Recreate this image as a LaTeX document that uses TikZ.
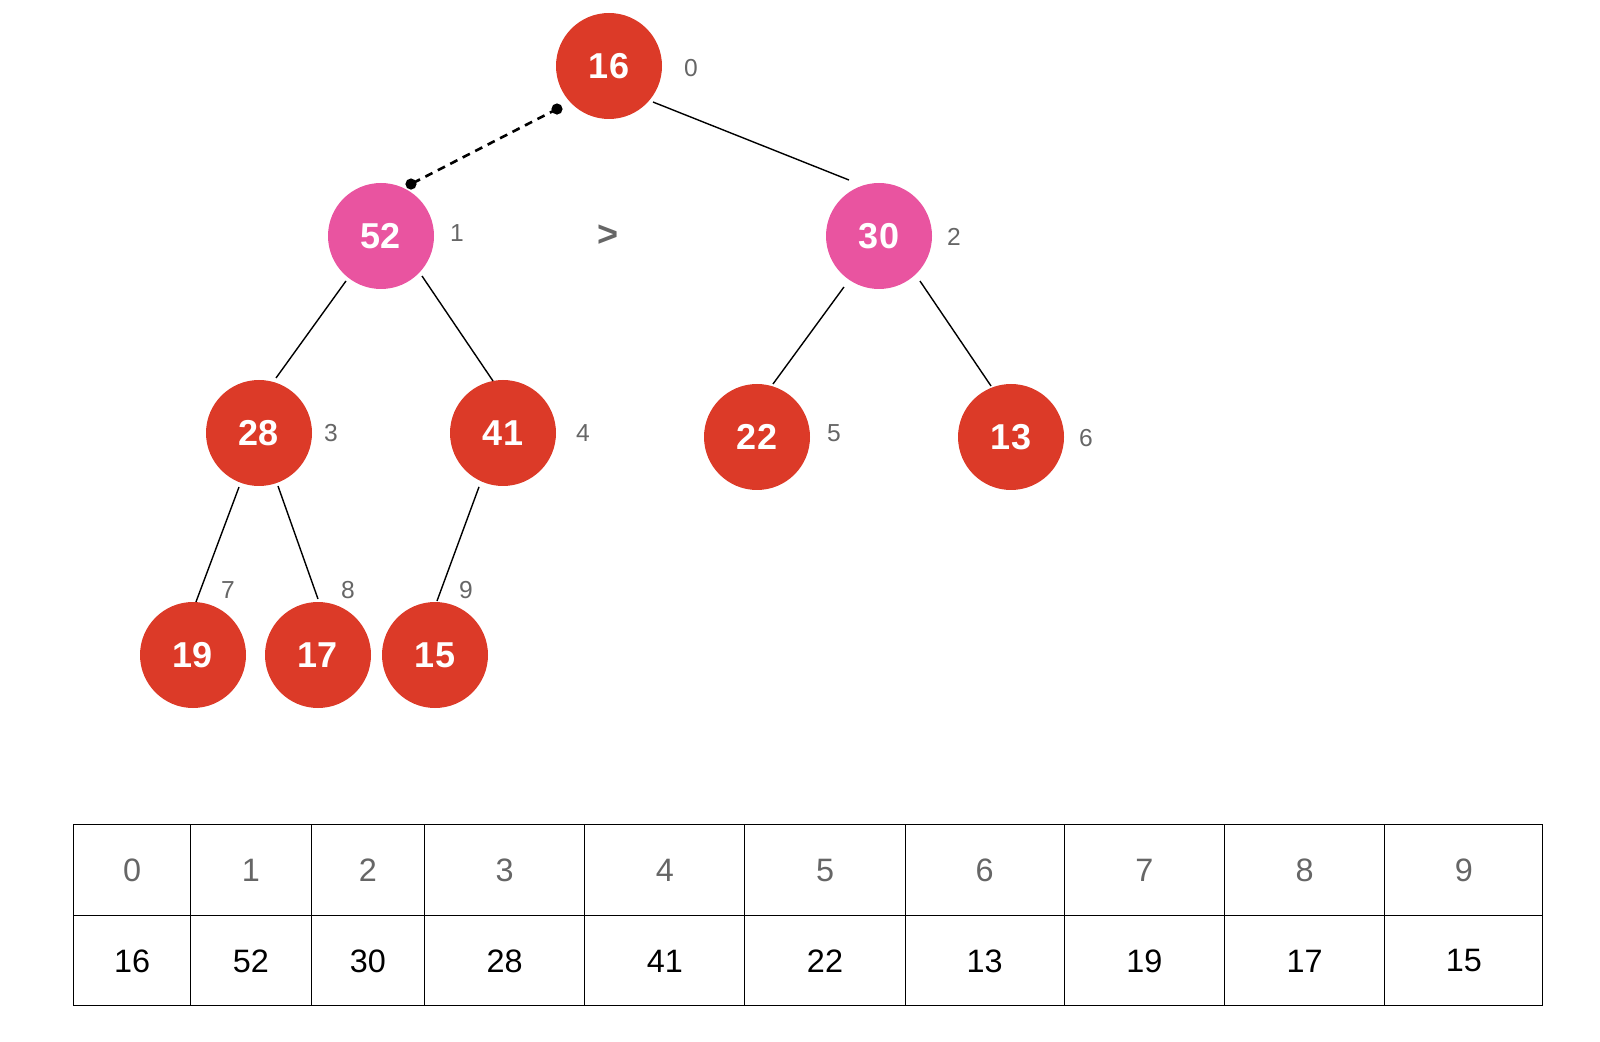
\documentclass[tikz,border=0pt]{standalone}
\usepackage{fontspec}
\setmainfont{Liberation Sans}
\definecolor{heapred}{RGB}{220,58,40}
\definecolor{heappink}{RGB}{233,84,160}
\definecolor{idxgray}{RGB}{102,102,102}
\begin{document}
\begin{tikzpicture}[x=0.5pt,y=-0.5pt,
  heap/.style={circle, fill=heapred, minimum size=53pt, inner sep=0pt, text=white, font=\fontsize{18}{18}\selectfont\bfseries},
  swapnode/.style={heap, fill=heappink},
  idx/.style={text=idxgray, inner sep=0pt, font=\fontsize{12.3}{12}\selectfont},
  edgeline/.style={line width=0.7pt},
  dotline/.style={line width=1.3pt, dash pattern=on 4pt off 3pt},
  hdr/.style={text=idxgray, inner sep=0pt, font=\fontsize{16.2}{16}\selectfont},
  val/.style={text=black, inner sep=0pt, font=\fontsize{16.2}{16}\selectfont},
  tbl/.style={line width=0.5pt}]
\useasboundingbox (0,0) rectangle (1600,1042);

% nodes
\node[heap] (n16) at (609,66) {16};
\node[swapnode] (n52) at (381,236) {52};
\node[swapnode] (n30) at (879,236) {30};
\node[heap] (n28) at (259,433) {28};
\node[heap] (n41) at (503,433) {41};
\node[heap] (n22) at (757,437) {22};
\node[heap] (n13) at (1011,437) {13};
\node[heap] (n19) at (193,655) {19};
\node[heap] (n17) at (318,655) {17};
\node[heap] (n15) at (435,655) {15};

% index labels
\node[idx] (i0) at (691,68) {0};
\node[idx] (i1) at (457,233) {1};
\node[idx] (i2) at (954,237) {2};
\node[idx] (i3) at (331,433) {3};
\node[idx] (i4) at (583,433) {4};
\node[idx] (i5) at (834,433) {5};
\node[idx] (i6) at (1086,438) {6};
\node[idx] (i7) at (228,590) {7};
\node[idx] (i8) at (348,590) {8};
\node[idx] (i9) at (466,590) {9};
\node[text=idxgray, inner sep=0pt, font=\fontsize{18}{18}\selectfont\bfseries] (gt) at (608,236) {>};

% edges (screen angles: positive = downward)
\draw[edgeline] ([shift={(39.3:56.9)}]n16.center) -- ([shift={(-118.2:63.5)}]n30.center);
\draw[edgeline] ([shift={(127.9:57)}]n52.center) -- ([shift={(-72.8:57.6)}]n28.center);
\draw[edgeline] ([shift={(44.3:57.3)}]n52.center) -- ([shift={(-100.9:53)}]n41.center);
\draw[edgeline] ([shift={(124.5:61.9)}]n30.center) -- ([shift={(-73.2:55.4)}]n22.center);
\draw[edgeline] ([shift={(47.7:60.9)}]n30.center) -- ([shift={(-111.4:54.8)}]n13.center);
\draw[edgeline] ([shift={(110.3:57.6)}]n28.center) -- ([shift={(-86.8:53.1)}]n19.center);
\draw[edgeline] ([shift={(70.3:56.3)}]n28.center) -- ([shift={(-90:56)}]n17.center);
\draw[edgeline] ([shift={(114:59)}]n41.center) -- ([shift={(-87.9:54)}]n15.center);

% dashed comparison link
\coordinate (da) at ([shift={(140.4:67.5)}]n16.center);
\coordinate (db) at ([shift={(-60:60)}]n52.center);
\draw[dotline] (da) -- (db);
\fill (da) circle (2.8pt);
\fill (db) circle (2.8pt);

% table
\foreach \i/\xl/\xr/\v in {0/73.5/190.8/16, 1/190.8/311.2/52, 2/311.2/424.5/30, 3/424.5/584.7/28, 4/584.7/744.9/41, 5/744.9/905.1/22, 6/905.1/1064.3/13, 7/1064.3/1224.5/19, 8/1224.5/1384.7/17, 9/1384.7/1542.9/15} {
  \draw[tbl] (\xl,824.5) rectangle (\xr,1005.1);
  \draw[tbl] (\xl,915.3) -- (\xr,915.3);
  \node[hdr] (h\i) at ({(\xl+\xr)/2},870.5) {\i};
  \node[val] (v\i) at ({(\xl+\xr)/2},961) {\v};
}
\end{tikzpicture}
\end{document}
